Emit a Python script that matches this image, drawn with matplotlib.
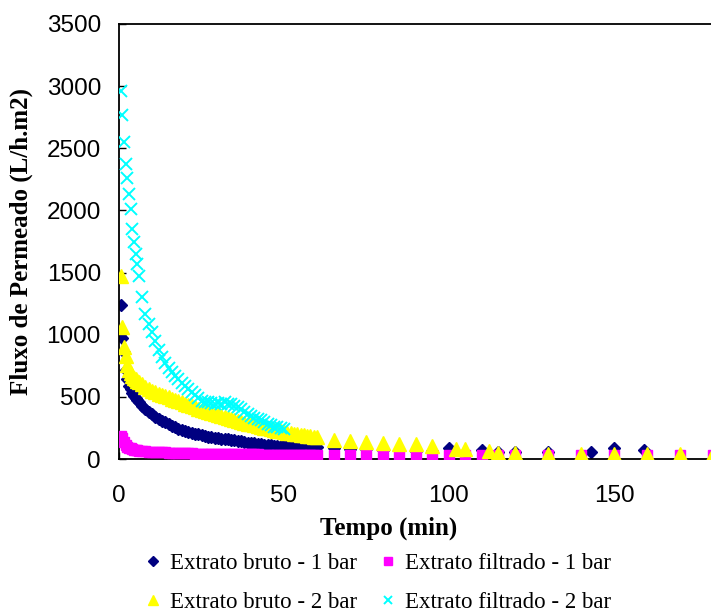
import matplotlib
matplotlib.use("Agg")
import matplotlib.pyplot as plt

# tempo (min) - fase densa ate 60 min
t_dense = [0.5, 1, 1.5, 2, 2.5, 3, 3.5, 4, 4.5, 5, 5.5, 6,
           7, 8, 9, 10, 11, 12, 13, 14, 15, 16, 17, 18, 19, 20,
           21, 22, 23, 24, 25, 26, 27, 28, 29, 30, 31, 32, 33, 34, 35,
           36, 37, 38, 39, 40, 41, 42, 43, 44, 45, 46, 47, 48, 49, 50,
           51, 52, 53, 54, 55, 56, 57, 58, 59, 60]

# Extrato bruto - 1 bar
bruto1_dense = [1240, 975, 860, 720, 640, 590, 560, 535, 510, 490, 475, 460,
                430, 405, 380, 360, 340, 320, 305, 300, 285, 265, 255, 245, 235, 228,
                220, 212, 205, 198, 192, 185, 180, 175, 170, 166, 162, 160, 157, 155, 152,
                148, 142, 137, 132, 128, 125, 122, 119, 116, 113, 110, 108, 106, 104, 102,
                101, 100, 99, 98, 97, 96, 95, 95, 94, 93]
t_bruto1_late = [65, 70, 75, 80, 85, 90, 95, 100, 110, 115, 120, 130, 143, 150, 159]
bruto1_late = [86, 78, 78, 73, 70, 68, 65, 86, 73, 59, 59, 59, 54, 86, 73]

# Extrato filtrado - 1 bar
filt1_dense = [185, 170, 140, 115, 100, 90, 85, 80, 76, 73, 70, 68,
               65, 62, 60, 58, 56, 55, 54, 53, 52, 51, 50, 49, 48, 47,
               46, 45, 44, 44, 43, 43, 42, 42, 41, 41, 40, 40, 40, 39, 39,
               39, 38, 38, 38, 37, 37, 37, 36, 36, 36, 35, 35, 35, 34, 34,
               34, 34, 33, 33, 33, 33, 32, 32, 32, 32]
t_filt1_late = [65, 70, 75, 80, 85, 90, 95, 100, 105, 110, 115, 120, 130, 140, 150, 160, 170, 180]
filt1_late = [32, 32, 32, 32, 32, 32, 32, 32, 30, 30, 30, 30, 32, 30, 30, 30, 30, 30]

# Extrato bruto - 2 bar
bruto2_dense = [1470, 1060, 900, 830, 760, 720, 690, 670, 650, 640, 630, 620,
                600, 580, 565, 550, 540, 525, 515, 505, 495, 485, 475, 465, 455, 445,
                435, 425, 415, 405, 395, 385, 375, 368, 360, 352, 345, 338, 330, 322, 315,
                307, 300, 292, 285, 278, 272, 265, 258, 252, 246, 240, 234, 228, 222, 218,
                213, 208, 204, 200, 196, 192, 188, 184, 180, 176]
t_bruto2_late = [65, 70, 75, 80, 85, 90, 95, 102, 105, 112, 115, 120, 130, 140, 150, 160, 170, 180]
bruto2_late = [155, 145, 135, 127, 121, 121, 108, 78, 78, 67, 48, 48, 40, 40, 40, 40, 40, 40]

# Extrato filtrado - 2 bar (so ate 50 min)
t_filt2 = t_dense[:56]
filt2 = [2960, 2770, 2550, 2370, 2260, 2130, 2010, 1850, 1750, 1650, 1570, 1470,
         1300, 1170, 1090, 1020, 950, 880, 820, 770, 735, 700, 665, 640, 615, 590,
         565, 540, 515, 490, 470, 460, 455, 450, 445, 450, 445, 455, 440, 445, 430,
         415, 400, 380, 365, 345, 330, 320, 310, 295, 285, 270, 260, 255, 250, 245]

labels = ["Extrato bruto - 1 bar", "Extrato filtrado - 1 bar",
          "Extrato bruto - 2 bar", "Extrato filtrado - 2 bar"]

serif = ["Liberation Serif", "DejaVu Serif"]
sans = ["Liberation Sans", "DejaVu Sans"]

fig = plt.figure(figsize=(7.11, 6.13), dpi=100)
ax = fig.add_axes([119 / 711, 154 / 613, 660 / 711, 435 / 613])

h1, = ax.plot(t_dense + t_bruto1_late, bruto1_dense + bruto1_late, ls="none", marker="D",
              ms=6.5, color="#000080", mec="#000080", label=labels[0], zorder=2)
h2, = ax.plot(t_dense + t_filt1_late, filt1_dense + filt1_late, ls="none", marker="s",
              ms=7, color="#FF00FF", mec="#FF00FF", label=labels[1], zorder=3)
h3, = ax.plot(t_dense + t_bruto2_late, bruto2_dense + bruto2_late, ls="none", marker="^",
              ms=10, color="#FFFF00", mec="#FFFF00", label=labels[2], zorder=4)
h4, = ax.plot(t_filt2, filt2, ls="none", marker="x", ms=8.5, mew=1.4,
              color="#00FFFF", label=labels[3], zorder=5)

ax.set_xlim(0, 200)
ax.set_ylim(0, 3500)
ax.set_xticks([0, 50, 100, 150])
ax.set_yticks(range(0, 3501, 500))
ax.spines["right"].set_visible(False)
for s in ax.spines.values():
    s.set_linewidth(1.3)
ax.tick_params(direction="in", length=5, width=1, labelsize=17.5)
ax.tick_params(axis="x", pad=19)
ax.tick_params(axis="y", pad=13)
for lab in ax.get_xticklabels() + ax.get_yticklabels():
    lab.set_family(sans)

ax.set_xlabel("Tempo (min)", family=serif, fontweight="bold", fontsize=18)
ax.xaxis.label.set_va("center")
ax.xaxis.set_label_coords((388.5 - 119) / 660, (459 - 528) / 435)
ax.set_ylabel("Fluxo de Permeado (L/h.m2)", family=serif, fontweight="bold", fontsize=18)
ax.yaxis.label.set_va("center")
ax.yaxis.set_label_coords((21 - 119) / 660, 0.5)

# ordem por linhas: bruto 1, filtrado 1 / bruto 2, filtrado 2
fig.legend([h1, h3, h2, h4], [labels[0], labels[2], labels[1], labels[3]],
           loc="center", bbox_to_anchor=(378 / 711, 1 - 583 / 613), ncol=2,
           frameon=False, prop={"family": serif, "size": 16.5},
           handlelength=0.7, handletextpad=0.4, columnspacing=1.0,
           labelspacing=0.75, borderpad=0, markerscale=0.75)

plt.savefig("out.png", dpi=100)
